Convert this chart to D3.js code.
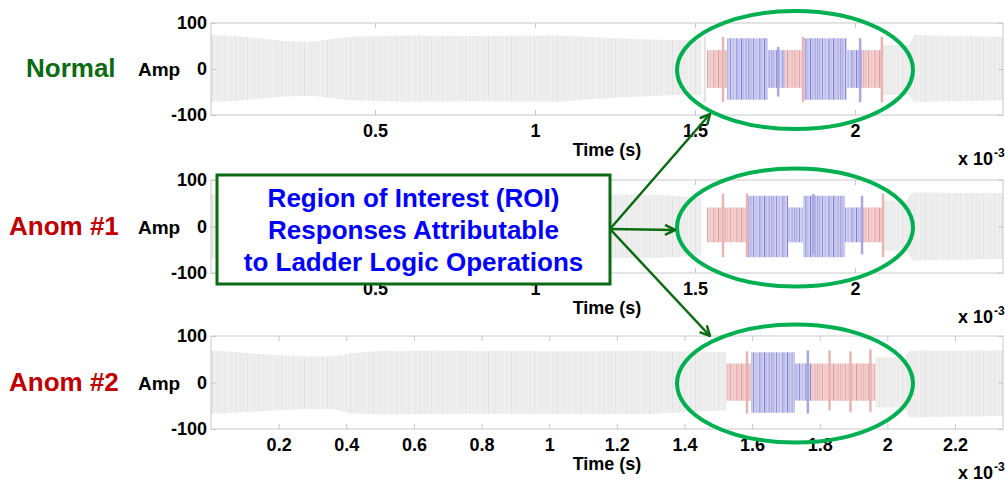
<!DOCTYPE html>
<html>
<head>
<meta charset="utf-8">
<script src="https://cdn.jsdelivr.net/npm/d3@7"></script>
<style>
  body { margin: 0; background: #fff; }
  svg { display: block; font-family: "Liberation Sans", Arial, sans-serif; font-weight: bold; }
</style>
</head>
<body>
<svg id="chart" width="1005" height="483"></svg>
<script>
// ---- data (time in ms, i.e. x 10^-3 s; amplitude) ----
const rowNames = ['Normal', 'Anom #1', 'Anom #2'];
const ampTicks = [-100, 0, 100];
const timeTicksWide = [0.5, 1, 1.5, 2];
const timeTicksFine = [0.2, 0.4, 0.6, 0.8, 1, 1.2, 1.4, 1.6, 1.8, 2, 2.2];
const timeDomainWide = [-0.0125, 2.4625];
const timeDomainFine = [0, 2.342];
const roiText = ['Region of Interest (ROI)', 'Responses Attributable', 'to Ladder Logic Operations'];

// envelope nodes [t, upper, lower] of the grey (non-ROI) signal
const normalGrayPre = [[-0.0125, 74, -72], [0.08, 71, -69], [0.16, 65, -63], [0.22, 61, -60], [0.3, 59, -58],
  [0.36, 64, -63], [0.42, 70, -68], [0.59, 73, -71], [0.8, 72, -70], [1.08, 73, -71], [1.15, 70, -67],
  [1.3, 66, -61], [1.42, 63, -57], [1.52, 63, -57]];
const normalGrayPost = [[2.0875, 52, -57], [2.17, 52, -57], [2.185, 74, -72], [2.3, 72, -70], [2.4625, 70, -68]];
const anom1GrayPre = [[-0.0125, 70, -68], [0.2, 66, -64], [0.6, 70, -68], [1.1, 70, -68], [1.4, 68, -68], [1.52, 62, -62]];
const anom1GrayPost = [[2.0875, 56, -52], [2.16, 56, -52], [2.18, 73, -73], [2.4625, 72, -70]];
const anom2GrayPre = [[0, 69, -67], [0.1, 64, -64], [0.19, 59, -60], [0.28, 56, -57], [0.36, 56, -57],
  [0.41, 63, -66], [0.5, 68, -69], [0.69, 69, -67], [1.0, 67, -67], [1.3, 68, -68], [1.45, 66, -62], [1.524, 65, -60]];
const anom2GrayPost = [[1.965, 54, -54], [2.05, 54, -54], [2.065, 69, -75], [2.342, 69, -72]];

// ROI bursts [t0, t1, kind, upper, lower]
const normalBursts = [[1.5375, 1.6, 'red', 41, -41], [1.6, 1.728, 'blue', 67, -67], [1.728, 1.781, 'blue', 41, -41],
  [1.781, 1.8375, 'red', 41, -41], [1.8375, 1.975, 'blue', 67, -67], [1.975, 2.022, 'blue', 41, -41],
  [2.022, 2.0875, 'red', 41, -41]];
const anom1Bursts = [[1.5375, 1.666, 'red', 41, -34], [1.666, 1.791, 'blue', 66, -66], [1.791, 1.8375, 'blue', 41, -34],
  [1.8375, 1.969, 'blue', 66, -66], [1.969, 2.022, 'blue', 41, -34], [2.022, 2.0875, 'red', 41, -34]];
const anom2Bursts = [[1.524, 1.597, 'red', 41, -39], [1.597, 1.726, 'blue', 65, -65], [1.726, 1.774, 'blue', 41, -39],
  [1.774, 1.965, 'red', 41, -39]];

// single spikes [t, kind, upper, lower]
const normalSpikes = [[1.531, 'gray', 70, -72], [1.5875, 'red', 70, -72], [1.76, 'blue', 48, -60],
  [1.8375, 'red', 70, -72], [2.016, 'blue', 67, -72], [2.084, 'red', 70, -72]];
const anom1Spikes = [[1.5875, 'red', 71, -66], [1.6625, 'red', 71, -66], [1.87, 'blue', 70, -60],
  [2.022, 'blue', 66, -60], [2.0875, 'red', 71, -66]];
const anom2Spikes = [[1.585, 'red', 67, -67], [1.765, 'blue', 69, -67], [1.829, 'red', 69, -60],
  [1.891, 'red', 67, -64], [1.95, 'red', 71, -63]];

// ---- layout ----
const svg = d3.select('#chart');
const left = 211, right = 1003;
const rows = [
  { name: rowNames[0], top: 23, bottom: 115, domain: timeDomainWide, ticks: timeTicksWide, lx: 26, color: '#0b6b12',
    gray: [normalGrayPre, normalGrayPost], bursts: normalBursts, spikes: normalSpikes },
  { name: rowNames[1], top: 180, bottom: 273, domain: timeDomainWide, ticks: timeTicksWide, lx: 9, color: '#c00000',
    gray: [anom1GrayPre, anom1GrayPost], bursts: anom1Bursts, spikes: anom1Spikes },
  { name: rowNames[2], top: 336, bottom: 429, domain: timeDomainFine, ticks: timeTicksFine, lx: 9, color: '#c00000',
    gray: [anom2GrayPre, anom2GrayPost], bursts: anom2Bursts, spikes: anom2Spikes }
];

const fills = { gray: 'url(#texGray)', red: 'url(#texRed)', blue: 'url(#texBlue)' };
const spikeColors = { gray: '#e4e4e4', red: '#e8b4b4', blue: '#a8a8e0' };

// textures imitating the dense oscillation
const defs = svg.append('defs');
function texture(id, bg, lines) {
  const p = defs.append('pattern').attr('id', id).attr('patternUnits', 'userSpaceOnUse')
    .attr('width', 23).attr('height', 200);
  p.append('rect').attr('width', 23).attr('height', 200).attr('fill', bg);
  lines.forEach(([x, c, w]) => p.append('line').attr('x1', x).attr('x2', x).attr('y1', 0).attr('y2', 200)
    .attr('stroke', c).attr('stroke-width', w));
}
const texPos = [[0.8, 0.6], [2.9, 0.5], [5.6, 0.7], [7.4, 0.5], [10.1, 0.6], [12.7, 0.5], [14.8, 0.7], [17.5, 0.5], [20.2, 0.6]];
const mix = (arr) => texPos.map((p, i) => [p[0], arr[i % arr.length], p[1]]);
texture('texGray', '#f0f0f0', mix(['#dedede', '#e6e6e6', '#dadada', '#e8e8e8', '#e1e1e1']));
texture('texRed', '#f2d0d0', mix(['#da8a8a', '#e8b2b2', '#d67c7c', '#eab8b8', '#e09a9a']));
texture('texBlue', '#d0d0f0', mix(['#6464cc', '#9a9adc', '#5252c6', '#a4a4e0', '#7c7cd4']));

rows.forEach(r => {
  const x = d3.scaleLinear().domain(r.domain).range([left, right]);
  const y = d3.scaleLinear().domain([-100, 100]).range([r.bottom, r.top]);
  const g = svg.append('g');

  const area = d3.area().x(d => x(d[0])).y0(d => y(d[2])).y1(d => y(d[1]));

  g.selectAll('path.gray').data(r.gray).join('path').attr('class', 'gray')
    .attr('d', area).attr('fill', fills.gray);

  g.selectAll('path.burst').data(r.bursts).join('path').attr('class', 'burst')
    .attr('d', d => area([[d[0], d[3], d[4]], [d[1], d[3], d[4]]]))
    .attr('fill', d => fills[d[2]]);

  g.selectAll('line.spike').data(r.spikes).join('line').attr('class', 'spike')
    .attr('x1', d => x(d[0])).attr('x2', d => x(d[0]))
    .attr('y1', d => y(d[2])).attr('y2', d => y(d[3]))
    .attr('stroke', d => spikeColors[d[1]]).attr('stroke-width', 2.5);

  // frame
  g.append('rect').attr('x', left).attr('y', r.top).attr('width', right - left).attr('height', r.bottom - r.top)
    .attr('fill', 'none').attr('stroke', '#c8c8c8');

  const style = ax => {
    ax.select('.domain').remove();
    ax.attr('font-family', null).attr('font-size', null);
    ax.selectAll('.tick line').attr('stroke', '#c8c8c8');
    ax.selectAll('.tick text').attr('fill', '#000').attr('font-size', 18);
  };

  g.append('g').attr('transform', `translate(0,${r.bottom})`)
    .call(d3.axisBottom(x).tickValues(r.ticks).tickFormat(d => String(d)).tickSizeInner(-5).tickSizeOuter(0).tickPadding(9))
    .call(style);
  g.append('g').attr('transform', `translate(0,${r.top})`)
    .call(d3.axisTop(x).tickValues(r.ticks).tickFormat('').tickSizeInner(-5).tickSizeOuter(0))
    .call(style);
  g.append('g').attr('transform', `translate(${left},0)`)
    .call(d3.axisLeft(y).tickValues(ampTicks).tickFormat(d => String(d)).tickSizeInner(-5).tickSizeOuter(0).tickPadding(4))
    .call(style);
  g.append('g').attr('transform', `translate(${right},0)`)
    .call(d3.axisRight(y).tickValues(ampTicks).tickFormat('').tickSizeInner(-5).tickSizeOuter(0))
    .call(style);

  g.append('text').attr('x', 607).attr('y', r.bottom + 41).attr('text-anchor', 'middle')
    .attr('font-size', 18).text('Time (s)');
  g.append('text').attr('x', 993).attr('y', r.bottom + 50).attr('text-anchor', 'end').attr('font-size', 18).text('x 10');
  g.append('text').attr('x', 994).attr('y', r.bottom + 42).attr('font-size', 12).text('-3');

  g.append('text').attr('x', 138).attr('y', y(0) + 7).attr('font-size', 19).text('Amp');
  g.append('text').attr('x', r.lx).attr('y', y(0) + 8).attr('font-size', 26).attr('fill', r.color).text(r.name);

  // ROI ellipse
  svg.append('ellipse').attr('cx', 795).attr('cy', (r.top + r.bottom) / 2 + 1).attr('rx', 118).attr('ry', 59)
    .attr('fill', 'none').attr('stroke', '#00b050').attr('stroke-width', 4);
});

// annotation box and arrows
const dark = '#0b6b12';
defs.append('marker').attr('id', 'head').attr('viewBox', '0 0 12 12').attr('refX', 11).attr('refY', 6)
  .attr('markerWidth', 12).attr('markerHeight', 12).attr('markerUnits', 'userSpaceOnUse').attr('orient', 'auto')
  .append('path').attr('d', 'M1,1 L11,6 L1,11').attr('fill', 'none').attr('stroke', dark).attr('stroke-width', 2.5);

[[710, 114], [675, 230], [710, 336]].forEach(([tx, ty]) => {
  svg.append('line').attr('x1', 610).attr('y1', 229).attr('x2', tx).attr('y2', ty)
    .attr('stroke', dark).attr('stroke-width', 2.5).attr('marker-end', 'url(#head)');
});

svg.append('rect').attr('x', 217).attr('y', 175).attr('width', 393).attr('height', 109)
  .attr('fill', '#fff').attr('stroke', dark).attr('stroke-width', 3);
svg.selectAll('text.roi').data(roiText).join('text').attr('class', 'roi')
  .attr('x', 413.5).attr('y', (d, i) => 207 + i * 32).attr('text-anchor', 'middle')
  .attr('font-size', 26).attr('fill', '#0000ff').text(d => d);
</script>
</body>
</html>
